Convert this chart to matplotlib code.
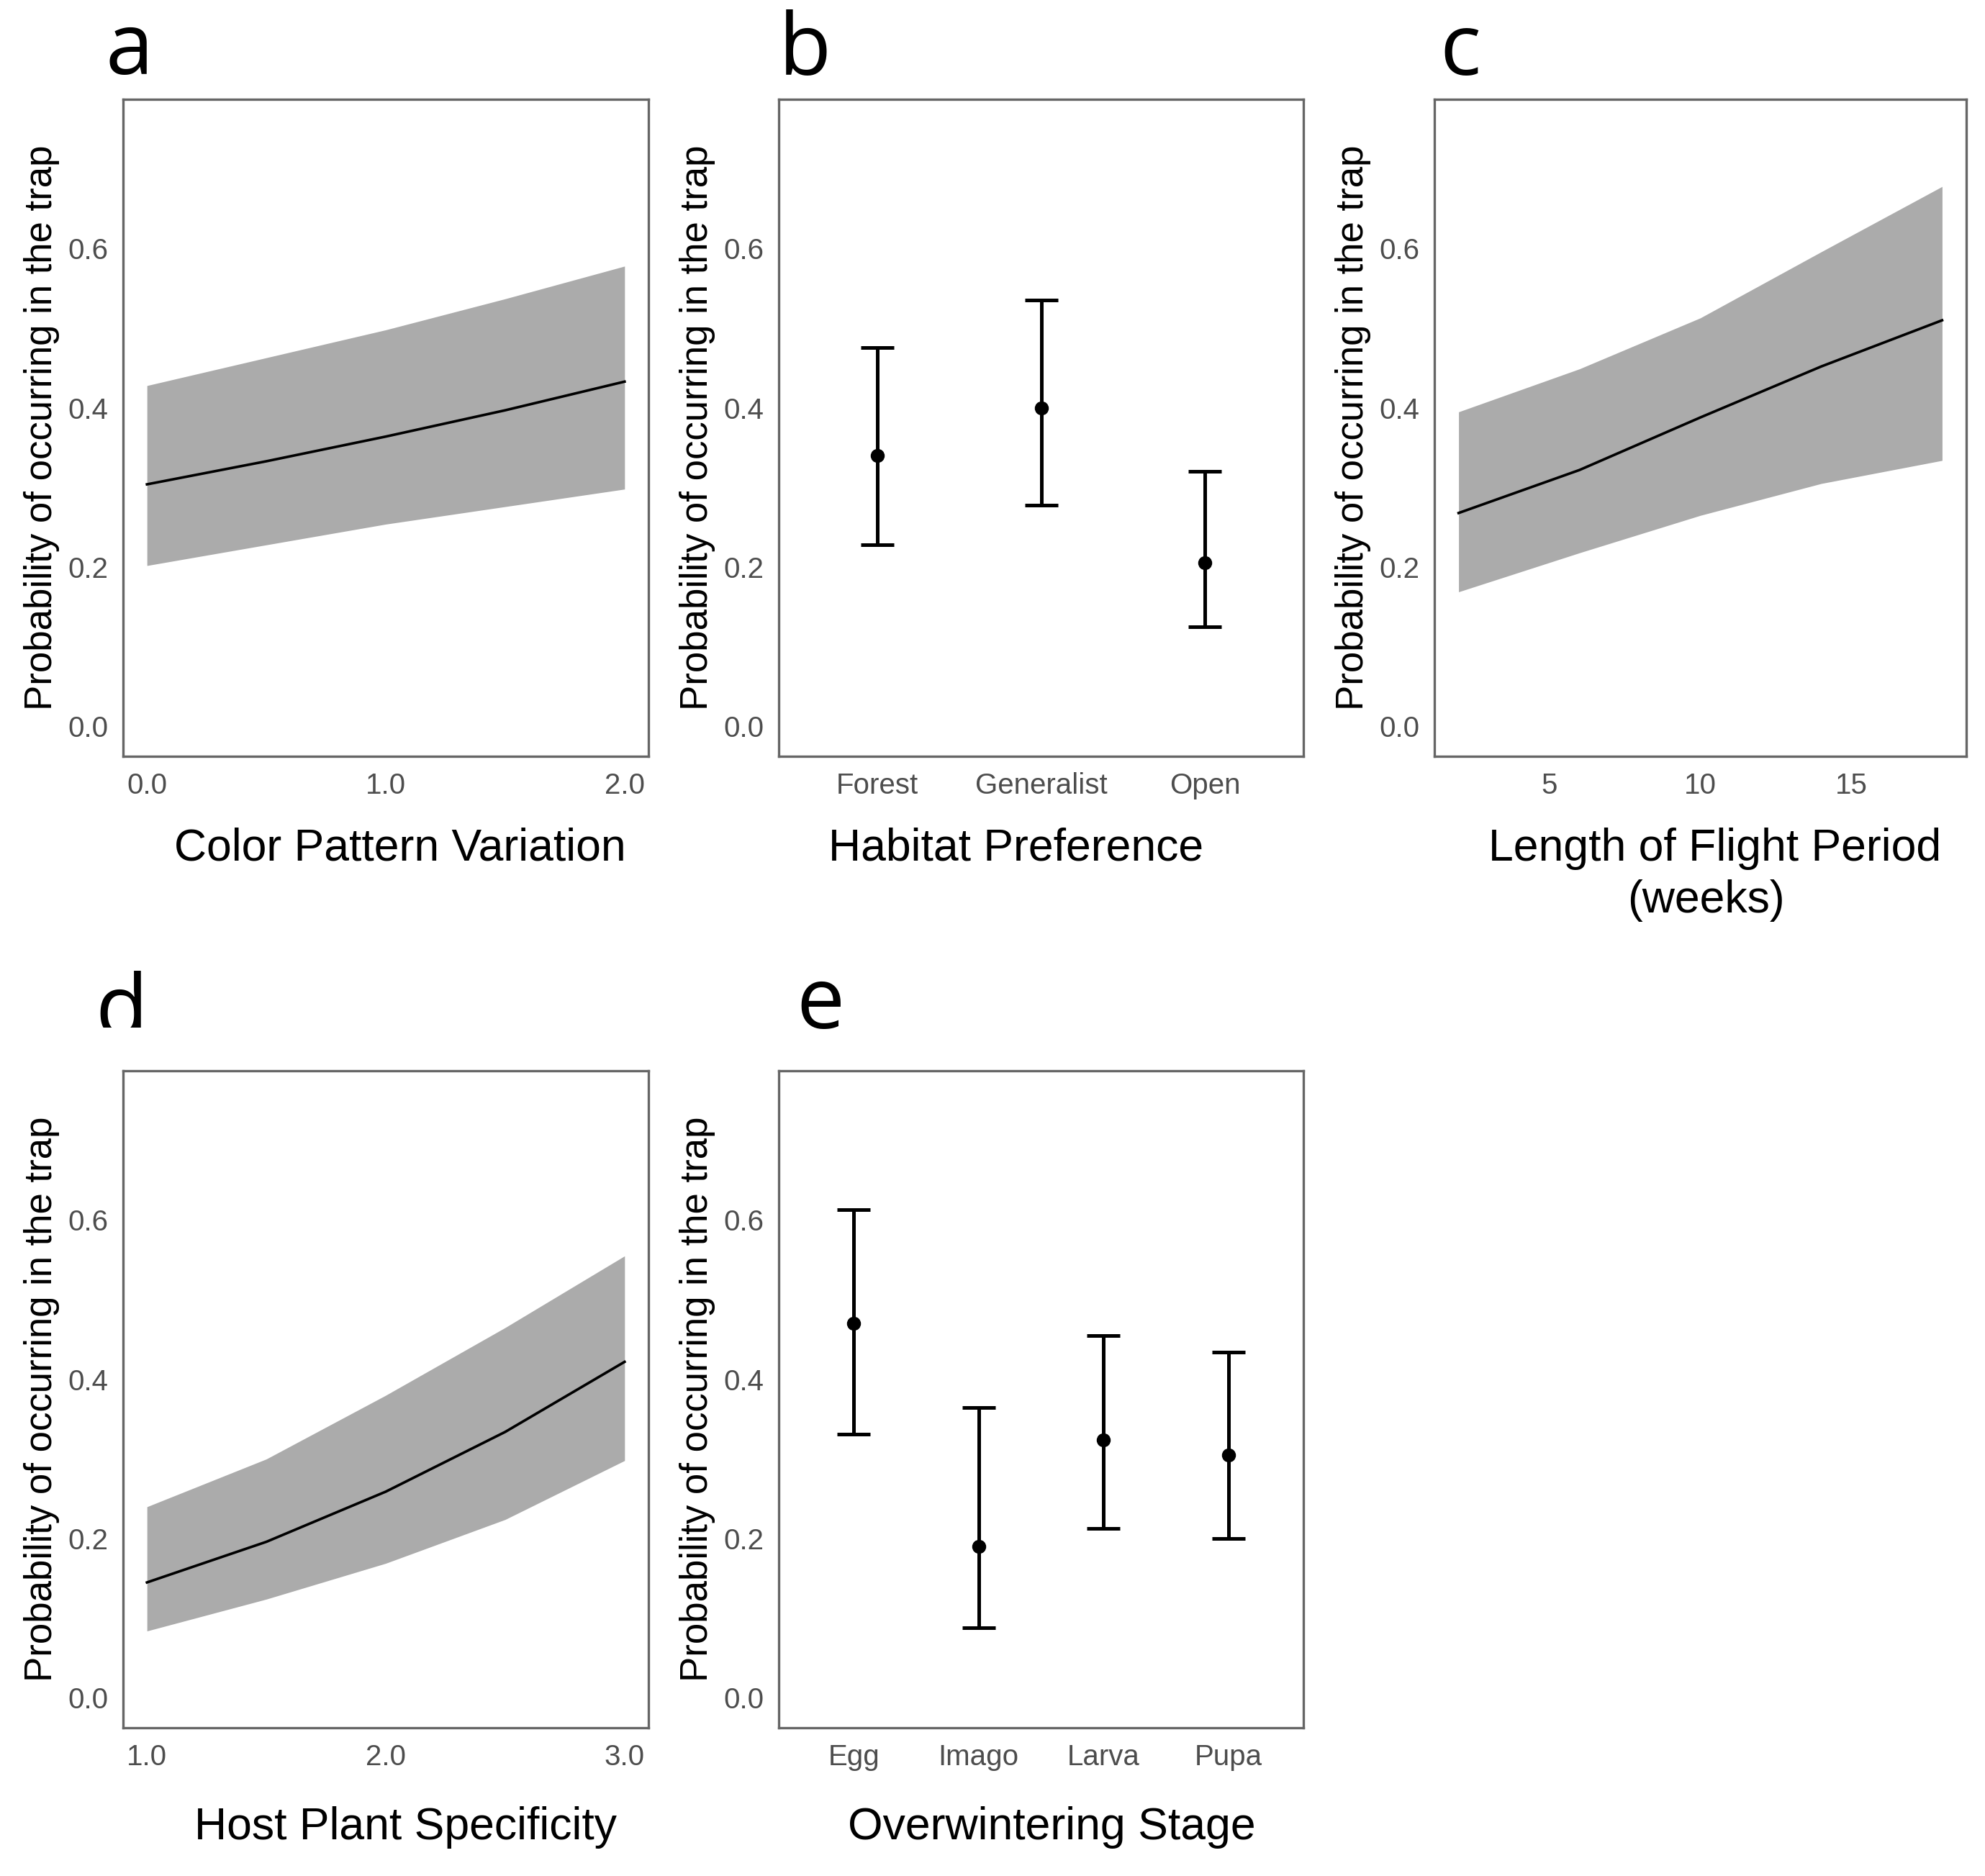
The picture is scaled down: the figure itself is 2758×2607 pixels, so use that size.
import numpy as np
import matplotlib
matplotlib.use("Agg")
import matplotlib.pyplot as plt
from matplotlib.transforms import Bbox

# panel a: color pattern variation
a_x = [0.0, 0.5, 1.0, 1.5, 2.0]
a_fit = [0.304, 0.333, 0.364, 0.397, 0.433]
a_lo = [0.202, 0.228, 0.254, 0.276, 0.298]
a_hi = [0.428, 0.463, 0.498, 0.537, 0.578]

# panel b: habitat preference
b_cats = ["Forest", "Generalist", "Open"]
b_est = [0.340, 0.400, 0.206]
b_lo = [0.228, 0.278, 0.125]
b_hi = [0.476, 0.535, 0.320]

# panel c: flight period (weeks)
c_x = [2, 6, 10, 14, 18]
c_fit = [0.268, 0.322, 0.388, 0.452, 0.510]
c_lo = [0.169, 0.218, 0.265, 0.305, 0.334]
c_hi = [0.395, 0.449, 0.513, 0.596, 0.678]

# panel d: host plant specificity
d_x = [1.0, 1.5, 2.0, 2.5, 3.0]
d_fit = [0.145, 0.196, 0.259, 0.334, 0.422]
d_lo = [0.084, 0.124, 0.169, 0.224, 0.298]
d_hi = [0.240, 0.300, 0.380, 0.465, 0.555]

# panel e: overwintering stage
e_cats = ["Egg", "Imago", "Larva", "Pupa"]
e_est = [0.470, 0.190, 0.324, 0.305]
e_lo = [0.331, 0.088, 0.213, 0.200]
e_hi = [0.613, 0.365, 0.455, 0.434]

y_ticks = [0.0, 0.2, 0.4, 0.6]
y_label = "Probability of occurring in the trap"

W, H = 2758, 2607
DPI = 100
fig = plt.figure(figsize=(W / DPI, H / DPI), dpi=DPI)

TICK_FONT = "Liberation Sans"
TICK_COLOR = "#4d4d4d"
SPINE_COLOR = "#666666"


def px_axes(left, top, right, bottom):
    """Axes from pixel box (origin top-left)"""
    return fig.add_axes([left / W, 1 - bottom / H, (right - left) / W, (bottom - top) / H])


def style_axes(ax, width_px):
    ax.set_ylim(-0.0375, 0.7875)
    ax.set_yticks(y_ticks)
    ax.set_yticklabels([f"{v:.1f}" for v in y_ticks])
    for s in ax.spines.values():
        s.set_color(SPINE_COLOR)
        s.set_linewidth(2.4)
    ax.tick_params(length=0, labelsize=29, labelcolor=TICK_COLOR)
    ax.tick_params(axis="x", pad=16)
    ax.tick_params(axis="y", pad=15)
    for lab in ax.get_xticklabels() + ax.get_yticklabels():
        lab.set_fontfamily(TICK_FONT)
    ax.set_ylabel(y_label, fontsize=38, fontfamily=TICK_FONT, color="black")
    ax.yaxis.set_label_coords(-88 / width_px, 0.5)


def ribbon_panel(ax, x, fit, lo, hi):
    ax.fill_between(x, lo, hi, color="#ababab", linewidth=0)
    ax.plot(x, fit, color="black", linewidth=2.6)


def errbar_panel(ax, cats, est, lo, hi):
    pos = np.arange(len(cats))
    est = np.array(est)
    yerr = [est - np.array(lo), np.array(hi) - est]
    ax.errorbar(pos, est, yerr=yerr, fmt="o", color="black", markersize=13,
                elinewidth=3.6, capsize=16.9, capthick=3.6)
    ax.set_xticks(pos)
    ax.set_xticklabels(cats)
    ax.set_xlim(-0.6, len(cats) - 0.4)


def xtitle(x_px, base_px, text):
    fig.text(x_px / W, 1 - base_px / H, text, fontsize=45, fontfamily=TICK_FONT,
             ha="center", va="baseline")


def panel_letter(x_px, base_px, text, clip_px=None):
    t = fig.text(x_px / W, 1 - base_px / H, text, fontsize=86, fontfamily="Open Sans",
                 ha="left", va="baseline")
    if clip_px is not None:
        t.set_clip_box(Bbox.from_extents(0, H - clip_px, W, H))
        t.set_clip_on(True)


TOP1, BOT1 = 138, 1051
TOP2, BOT2 = 1488, 2401

# a
ax = px_axes(171, TOP1, 901, BOT1)
ribbon_panel(ax, a_x, a_fit, a_lo, a_hi)
ax.set_xlim(-0.1, 2.1)
ax.set_xticks([0.0, 1.0, 2.0])
ax.set_xticklabels(["0.0", "1.0", "2.0"])
style_axes(ax, 730)

# b
ax = px_axes(1082, TOP1, 1811, BOT1)
errbar_panel(ax, b_cats, b_est, b_lo, b_hi)
style_axes(ax, 729)

# c
ax = px_axes(1993, TOP1, 2732, BOT1)
ribbon_panel(ax, c_x, c_fit, c_lo, c_hi)
ax.set_xlim(1.2, 18.8)
ax.set_xticks([5, 10, 15])
style_axes(ax, 739)

# d
ax = px_axes(171, TOP2, 901, BOT2)
ribbon_panel(ax, d_x, d_fit, d_lo, d_hi)
ax.set_xlim(0.9, 3.1)
ax.set_xticks([1.0, 2.0, 3.0])
ax.set_xticklabels(["1.0", "2.0", "3.0"])
style_axes(ax, 730)

# e
ax = px_axes(1082, TOP2, 1811, BOT2)
errbar_panel(ax, e_cats, e_est, e_lo, e_hi)
style_axes(ax, 729)

xtitle(556, 1196, "Color Pattern Variation")
xtitle(1412, 1196, "Habitat Preference")
xtitle(2383, 1196, "Length of Flight Period")
xtitle(2370, 1268, "(weeks)")
xtitle(563, 2556, "Host Plant Specificity")
xtitle(1461, 2556, "Overwintering Stage")

panel_letter(147, 103, "a")
panel_letter(1082, 104, "b")
panel_letter(2000, 104, "c")
panel_letter(132, 1440, "d", clip_px=1428)
panel_letter(1106, 1429, "e")

fig.savefig("out.png", dpi=DPI, facecolor="white")
